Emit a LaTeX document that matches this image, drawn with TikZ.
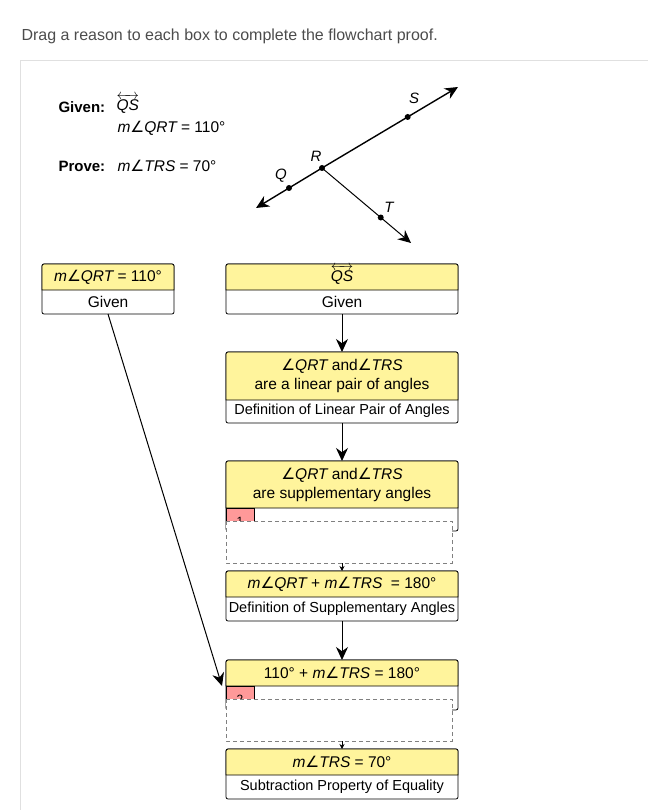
\documentclass[tikz,border=0pt]{standalone}
\usepackage{fontspec}
\setmainfont{Liberation Sans}
\newfontfamily\angf{DejaVu Sans}
\usepackage{amsmath}
\usetikzlibrary{arrows.meta,calc}
\newcommand{\ang}{{\upshape\angf ∠}}
\newcommand{\ray}[1]{$\overleftrightarrow{\text{\itshape #1}}$}
\begin{document}
\begin{tikzpicture}[x=1pt,y=-1pt,
  yb/.style={draw=black,fill=yellow!35!white!95!orange,rounded corners=2pt,line width=0.8pt},
  wb/.style={draw=black,fill=white,rounded corners=2pt,line width=0.8pt},
  dsh/.style={draw=gray,dashed,fill=white,line width=0.9pt,dash pattern=on 4pt off 3pt},
  tab/.style={draw=black,fill=red!40,line width=0.6pt},
  arr/.style={-{Stealth[length=13pt,width=12pt]},line width=1pt},
  sarr/.style={-{Stealth[length=5pt,width=5pt]},line width=0.7pt},
  t/.style={font=\fontsize{15.5}{19}\selectfont,align=center},
  s/.style={font=\fontsize{14.5}{17}\selectfont,align=center},
  dot/.style={circle,fill=black,inner sep=0pt,minimum size=6pt},
  lab/.style={font=\fontsize{15}{17}\selectfont\itshape}]
\useasboundingbox (0,0) rectangle (647,810);
\node[anchor=west,text=black!70,font=\fontsize{16}{18}\selectfont] (hdr) at (18,36) {Drag a reason to each box to complete the flowchart proof.};
\draw[black!12,line width=0.8pt] (20,820) -- (20,60) -- (660,60);
% given / prove
\node[anchor=west,font=\fontsize{15}{17}\selectfont\bfseries] (gv) at (55,107) {Given:};
\node[anchor=west,t] (gv1) at (113,104) {\ray{QS}};
\node[anchor=west,t] (gv2) at (114,128) {\itshape m\ang QRT\upshape\ = 110°};
\node[anchor=west,font=\fontsize{15}{17}\selectfont\bfseries] (pv) at (55,166) {Prove:};
\node[anchor=west,t] (pv1) at (114,166) {\itshape m\ang TRS\upshape\ = 70°};
% figure
\coordinate (Rc) at (322,168);
\coordinate (Se) at (458,87);
\coordinate (Qe) at (256,208);
\coordinate (Te) at (411,243);
\draw[arr,line width=1.4pt] (Rc) -- (Se);
\draw[arr,line width=1.4pt] (Rc) -- (Qe);
\draw[arr,line width=1pt] (Rc) -- (Te);
\node[dot] (R) at (Rc) {};
\node[dot] (S) at ($(Rc)!0.63!(Se)$) {};
\node[dot] (Q) at ($(Rc)!0.5!(Qe)$) {};
\node[dot] (T) at ($(Rc)!0.66!(Te)$) {};
\node[lab] (lS) at (414,98) {S};
\node[lab] (lR) at (316,156) {R};
\node[lab] (lQ) at (281,176) {Q};
\node[lab] (lT) at (389,207) {T};
% left box
\draw[wb] (42,264) rectangle (174,314);
\draw[yb,sharp corners] (42,290) -- (42,266) arc[start angle=180,end angle=270,radius=2] -- (172,264) arc[start angle=270,end angle=360,radius=2] -- (174,290) -- cycle;
\node[t] (L1) at (108,277) {\itshape m\ang QRT\upshape\ = 110°};
\node[t] (L2) at (108,302) {Given};
% generic boxes
\newcommand{\pbox}[4]{% top, split, bottom, name
  \draw[wb] (226,#1) rectangle (458,#3);
  \draw[yb,sharp corners] (226,#2) -- (226,#1+2) arc[start angle=180,end angle=270,radius=2] -- (456,#1) arc[start angle=270,end angle=360,radius=2] -- (458,#2) -- cycle;
  \coordinate (#4t) at (342,#1); \coordinate (#4b) at (342,#3);}
\pbox{264}{290}{314}{b1}
\node[t] (b1a) at (342,275) {\ray{QS}};
\node[t] (b1b) at (342,302) {Given};
\pbox{352}{400}{423}{b2}
\node[t] (b2a) at (342,376) {\itshape\ang QRT\upshape\ and\itshape\ang TRS\upshape\\are a linear pair of angles};
\node[s] (b2b) at (342,411) {Definition of Linear Pair of Angles};
\pbox{461}{508}{531}{b3}
\node[t] (b3a) at (342,485) {\itshape\ang QRT\upshape\ and\itshape\ang TRS\upshape\\are supplementary angles};
\begin{scope}
\clip (226,508) rectangle (255,521);
\draw[tab] (226.4,508) rectangle (254,530);
\node[font=\fontsize{12}{14}\selectfont] (n1) at (240,521) {1};
\end{scope}
\draw[dsh] (226,521) rectangle (452,563);
\pbox{571}{597}{621}{b4}
\node[t] (b4a) at (342,584) {\itshape m\ang QRT\upshape\ + \itshape m\ang TRS\upshape\ \ = 180°};
\node[s] (b4b) at (342,609) {Definition of Supplementary Angles};
\pbox{660}{686}{710}{b5}
\node[t] (b5a) at (342,673) {110° + \itshape m\ang TRS\upshape\ = 180°};
\begin{scope}
\clip (226,686) rectangle (255,699);
\draw[tab] (226.4,686) rectangle (254,708);
\node[font=\fontsize{12}{14}\selectfont] (n2) at (240,699) {2};
\end{scope}
\draw[dsh] (226,699) rectangle (452,741);
\pbox{749}{775}{799}{b6}
\node[t] (b6a) at (342,762) {\itshape m\ang TRS\upshape\ = 70°};
\node[s] (b6b) at (342,787) {Subtraction Property of Equality};
% arrows
\draw[arr] (b1b) ++(0,12) -- (b2t);
\draw[arr] (b2b) ++(0,12) -- (b3t);
\draw[arr] (b4b) ++(0,12) -- (b5t);
\draw[sarr] (342,563) -- (b4t);
\draw[sarr] (342,741) -- (b6t);
\draw[arr] (108,314) -- (222,686);
\end{tikzpicture}
\end{document}
